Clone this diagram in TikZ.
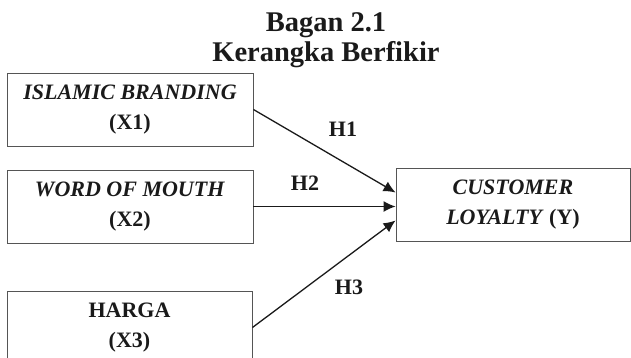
\documentclass[tikz,border=0pt]{standalone}
\usepackage{fontspec}
\setmainfont{Liberation Serif}
\usetikzlibrary{arrows.meta, calc}
\definecolor{boxgrey}{HTML}{555555}
\definecolor{inkblack}{HTML}{1A1A1A}

\tikzset{
  varbox/.style={draw=boxgrey, line width=0.9pt, minimum height=73pt,
    align=center, inner sep=0pt, text=inkblack,
    font=\fontsize{22}{30}\selectfont\bfseries},
  hyparrow/.style={draw=inkblack, line width=1.3pt,
    -{Latex[length=12pt, width=11pt]}},
  hyplabel/.style={text=inkblack, font=\fontsize{22}{24}\selectfont\bfseries}
}

\begin{document}
\begin{tikzpicture}[x=1pt, y=-1pt]
    \clip (0,0) rectangle (631,358);
    \useasboundingbox (0,0) rectangle (631,358);

    % Title
    \node[text=inkblack, font=\fontsize{28.5}{30}\selectfont\bfseries, align=center]
      (title) at (326,40) {Bagan 2.1\\Kerangka Berfikir};

    % Variables
    \node[varbox, minimum width=246pt] (x1) at (130,109.5)
      {\textit{ISLAMIC BRANDING}\\(X1)};
    \node[varbox, minimum width=246pt] (x2) at (130,206.5)
      {\textit{WORD OF MOUTH}\\(X2)};
    \node[varbox, minimum width=245pt] (x3) at (129.5,327.5)
      {HARGA\\(X3)};
    \node[varbox, minimum width=234pt] (y) at (513,204.5)
      {\textit{CUSTOMER}\\\textit{LOYALTY} (Y)};

    % Hypotheses
    \draw[hyparrow] (x1.east) -- ($(y.west)+(0,-12)$);
    \draw[hyparrow] (x2.east) -- (x2.east -| y.west);
    \draw[hyparrow] (x3.east) -- ($(y.west)+(0,16)$);

    \node[hyplabel] (h1) at (343,129) {H1};
    \node[hyplabel] (h2) at (305,183) {H2};
    \node[hyplabel] (h3) at (349,287) {H3};
\end{tikzpicture}
\end{document}
